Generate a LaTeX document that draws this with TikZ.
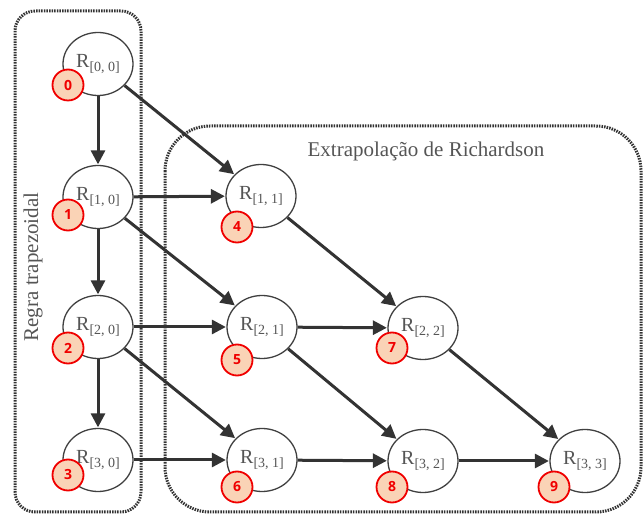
\documentclass[tikz,border=0pt]{standalone}
\usepackage{fontspec}
\setmainfont{Liberation Serif}
\newfontfamily\badgefont{Open Sans}
\usetikzlibrary{arrows.meta,shapes.geometric}
\definecolor{txtgray}{HTML}{555555}
\definecolor{edgegray}{HTML}{404040}
\definecolor{arrgray}{HTML}{333333}
\definecolor{boxgray}{HTML}{333333}
\definecolor{badgefill}{HTML}{FAD3B6}
\definecolor{badgered}{HTML}{F00000}
\newcommand{\rlab}[1]{{\fontsize{20}{20}\selectfont R}\raisebox{-4pt}{\fontsize{14}{14}\selectfont [#1]}}
\tikzset{
  rnode/.style={ellipse, draw=edgegray, line width=1.3pt, fill=white, minimum width=70pt, minimum height=63pt, inner sep=0pt, text=txtgray},
  badge/.style={circle, draw=badgered, line width=1.8pt, fill=badgefill, minimum size=31pt, inner sep=0pt, text=badgered, font=\badgefont\bfseries\fontsize{14}{14}\selectfont},
  arr/.style={draw=arrgray, line width=3pt, -{Triangle[length=14pt,width=14pt]}, shorten >=0.5pt},
  dotbox/.style={draw=boxgray, line width=3pt, dash pattern=on 1.5pt off 1.1pt},
  lbl/.style={text=txtgray, font=\fontsize{21}{21}\selectfont, inner sep=0pt}
}
\begin{document}
\begin{tikzpicture}[x=1pt,y=-1pt]
\useasboundingbox (0,0) rectangle (643,518);
% boxes
\draw[dotbox, rounded corners=20pt] (15,11) rectangle (141,512);
\draw[dotbox, rounded corners=45pt] (165,126) rectangle (641,512);
\node[lbl, anchor=base] (tExt) at (426,157) {Extrapolação de Richardson};
\node[lbl, rotate=90, anchor=base] (tReg) at (38,267) {Regra trapezoidal};
% nodes
\node[rnode] (r00) at (98,64) {\rlab{0, 0}};
\node[rnode] (r10) at (98,197) {\rlab{1, 0}};
\node[rnode] (r20) at (98,327) {\rlab{2, 0}};
\node[rnode] (r30) at (98,460) {\rlab{3, 0}};
\node[rnode] (r11) at (261,196) {\rlab{1, 1}};
\node[rnode] (r21) at (262,327) {\rlab{2, 1}};
\node[rnode] (r31) at (262,460) {\rlab{3, 1}};
\node[rnode] (r22) at (423,328) {\rlab{2, 2}};
\node[rnode] (r32) at (423,461) {\rlab{3, 2}};
\node[rnode] (r33) at (585,461) {\rlab{3, 3}};
% arrows
\draw[arr] (r00) -- (r10);
\draw[arr] (r00) -- (r11);
\draw[arr] (r10) -- (r11);
\draw[arr] (r10) -- (r20);
\draw[arr] (r10) -- (r21);
\draw[arr] (r20) -- (r21);
\draw[arr] (r20) -- (r30);
\draw[arr] (r20) -- (r31);
\draw[arr] (r30) -- (r31);
\draw[arr] (r11) -- (r22);
\draw[arr] (r21) -- (r22);
\draw[arr] (r21) -- (r32);
\draw[arr] (r31) -- (r32);
\draw[arr] (r22) -- (r33);
\draw[arr] (r32) -- (r33);
% badges
\node[badge] (b0) at (68,85) {0};
\node[badge] (b1) at (68,215) {1};
\node[badge] (b2) at (68,348) {2};
\node[badge] (b3) at (68,475) {3};
\node[badge] (b4) at (237,227) {4};
\node[badge] (b5) at (237,360) {5};
\node[badge] (b6) at (237,487) {6};
\node[badge] (b7) at (392,348) {7};
\node[badge] (b8) at (392,487) {8};
\node[badge] (b9) at (554,487) {9};
\end{tikzpicture}
\end{document}
